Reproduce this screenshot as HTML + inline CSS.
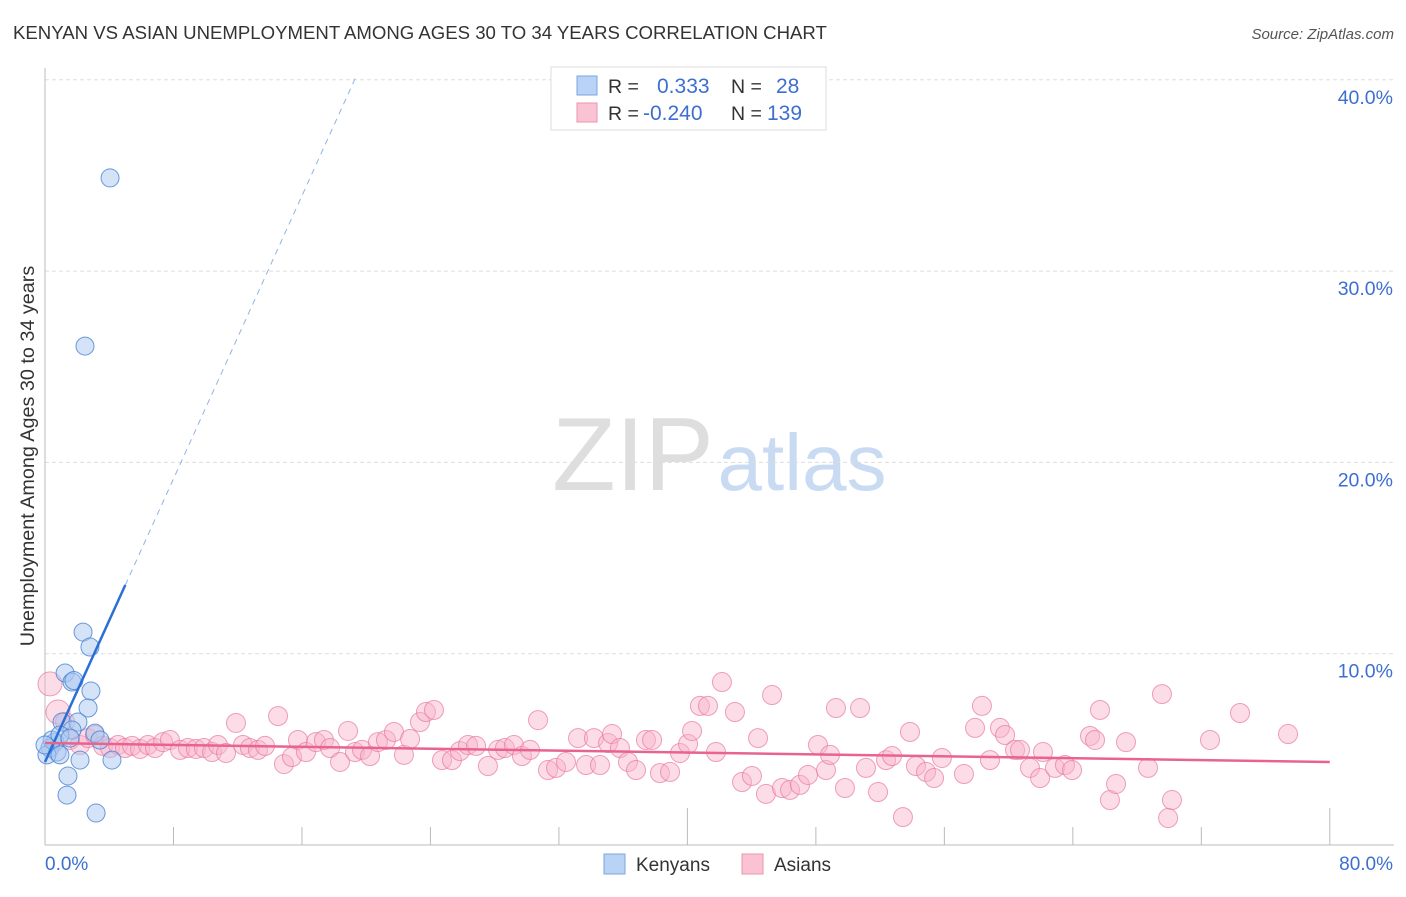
<!DOCTYPE html>
<html><head><meta charset="utf-8"><style>
body{margin:0;background:#fff;font-family:"Liberation Sans",sans-serif}
svg text{font-family:"Liberation Sans",sans-serif}
</style></head><body>
<svg id="chart" width="1406" height="892" xmlns="http://www.w3.org/2000/svg">
<text x="13" y="39" font-size="18.6" fill="#333">KENYAN VS ASIAN UNEMPLOYMENT AMONG AGES 30 TO 34 YEARS CORRELATION CHART</text>
<text x="1394" y="39" font-size="15" fill="#555" font-style="italic" text-anchor="end">Source: ZipAtlas.com</text>
<g>
<text x="633" y="490" font-size="104" font-family="Liberation Serif" fill="#dedede" text-anchor="middle">ZIP</text>
<text x="802" y="490" font-size="80" fill="#c9dbf2" text-anchor="middle">atlas</text>
</g>
<g id="grid"></g>
<g id="axes"></g>
<g id="marks"></g>
<text transform="translate(34,456) rotate(-90)" font-size="19.8" fill="#333" text-anchor="middle">Unemployment Among Ages 30 to 34 years</text>
<g>
<rect x="551" y="67" width="275" height="63" fill="#fff" stroke="#ddd"/>
<rect x="577" y="76" width="20" height="19" fill="#b8d3f5" stroke="#7aa7e0"/>
<rect x="577" y="103" width="20" height="19" fill="#fac3d3" stroke="#ef90ae"/>
<text x="608" y="93" font-size="19.5" fill="#333">R =</text>
<text x="657" y="93" font-size="21" fill="#3d6fd0">0.333</text>
<text x="731" y="93" font-size="19.5" fill="#333">N =</text>
<text x="776" y="93" font-size="21" fill="#3d6fd0">28</text>
<text x="608" y="120" font-size="19.5" fill="#333">R =</text>
<text x="643" y="120" font-size="21" fill="#3d6fd0">-0.240</text>
<text x="731" y="120" font-size="19.5" fill="#333">N =</text>
<text x="767" y="120" font-size="21" fill="#3d6fd0">139</text>
</g>
<g>
<rect x="604" y="854" width="21" height="20" fill="#b8d3f5" stroke="#7aa7e0"/>
<text x="636" y="871" font-size="19" fill="#333">Kenyans</text>
<rect x="742" y="854" width="21" height="20" fill="#fac3d3" stroke="#ef90ae"/>
<text x="774" y="871" font-size="19" fill="#333">Asians</text>
</g>
</svg>
<script>
const yTicks=[10,20,30,40];
const yTickLabels=["10.0%","20.0%","30.0%","40.0%"];
const xTicks=[0,8,16,24,32,40,48,56,64,72,80];
const kenyanX=[4.05,2.49,2.37,2.80,1.25,1.68,2.86,2.68,1.06,2.05,1.68,3.11,0.62,0.31,0.75,0.12,0.44,0.93,1.56,2.18,4.17,1.43,1.37,3.18,3.42,0,0.93,1.8];
const kenyanY=[34.87,26.08,11.13,10.35,8.99,8.52,8.05,7.16,6.43,6.43,6.01,5.85,5.38,5.07,4.86,4.71,5.49,5.75,5.59,4.44,4.44,3.61,2.61,1.67,5.49,5.23,4.71,8.6];
const asianX=[0.31,0.81,1.25,1.56,2.18,2.68,3.11,3.61,4.05,4.55,4.98,5.42,5.92,6.41,6.85,7.35,7.78,8.41,8.90,9.40,9.90,10.40,10.77,11.27,11.89,12.33,12.76,13.26,13.70,14.51,14.88,15.38,15.75,16.25,16.87,17.37,17.75,18.37,18.87,19.30,19.74,20.24,20.73,21.23,21.73,22.35,22.73,23.35,23.72,24.22,24.72,25.34,25.84,26.34,26.84,27.58,28.21,28.64,29.20,29.70,30.20,30.70,31.32,31.82,32.44,33.19,33.69,34.18,34.56,35.06,35.31,35.80,36.30,36.80,37.42,37.80,38.29,38.92,39.54,40.04,40.29,40.78,41.28,41.78,42.15,42.96,43.40,44.02,44.40,44.89,45.27,45.89,46.39,47.01,47.51,48.13,48.63,48.88,49.25,49.81,50.75,51.12,51.87,52.37,52.74,53.86,54.23,54.86,55.36,55.85,57.22,57.91,58.34,58.84,59.46,59.78,60.40,60.71,61.33,61.96,62.14,62.89,63.51,63.95,65.07,65.38,65.69,66.31,66.69,67.31,68.68,69.55,70.17,69.93,72.54,74.41,77.40,53.42];
const asianY=[8.42,6.95,6.43,5.49,5.23,5.59,5.75,5.18,5.07,5.23,5.07,5.18,5.02,5.23,5.07,5.38,5.49,4.97,5.07,5.02,5.07,4.86,5.23,4.81,6.38,5.23,5.07,4.97,5.18,6.74,4.23,4.60,5.49,4.86,5.38,5.49,5.07,4.34,5.96,4.86,4.97,4.65,5.38,5.49,5.91,4.71,5.54,6.43,6.95,7.06,4.44,4.44,4.91,5.23,5.18,4.13,4.97,5.07,5.23,4.65,4.97,6.53,3.92,4.03,4.34,5.59,4.18,5.59,4.18,5.33,5.80,5.07,4.34,3.92,5.49,5.49,3.76,3.82,4.81,5.28,5.96,7.27,7.27,4.86,8.52,6.95,3.29,3.61,5.59,2.67,7.84,2.98,2.88,3.14,3.66,5.23,3.92,4.71,7.16,2.98,7.16,4.03,2.77,4.44,4.65,5.91,4.13,3.82,3.50,4.55,3.71,6.12,7.27,4.44,6.12,5.75,4.97,4.97,4.03,3.50,4.86,4.03,4.18,3.92,5.70,5.49,7.06,2.35,3.19,5.38,4.03,7.89,2.35,1.41,5.49,6.90,5.80,1.46];
const kenyanLine=[4.34,1.85]; // intercept, slope
const asianLine=[5.33,-0.0124];
const NS="http://www.w3.org/2000/svg";
const X=v=>45+v*16.06, Y=v=>845-v*19.13;
function mk(tag,attrs,parent){const e=document.createElementNS(NS,tag);for(const k in attrs)e.setAttribute(k,attrs[k]);parent.appendChild(e);return e;}
const grid=document.getElementById('grid'),axes=document.getElementById('axes'),marks=document.getElementById('marks');
yTicks.forEach((t,i)=>{
 const l=mk('line',{x1:45,x2:1394,y1:Y(t),y2:Y(t),stroke:'#ddd','stroke-dasharray':'4,3'},grid);
 
 
 const tx=mk('text',{x:1393,y:Y(t)+24,'font-size':19.5,fill:'#3d6fd0','text-anchor':'end'},axes);
 tx.textContent=yTickLabels[i];
 
 
});
const ax=mk('line',{x1:45,x2:1394,y1:845,y2:845,stroke:'#bbb'},axes);


const ay=mk('line',{x1:45,x2:45,y1:68,y2:845,stroke:'#bbb'},axes);


xTicks.forEach((t,i)=>{if(i===0)return;
 const tk=mk('line',{x1:X(t),x2:X(t),y1:(i%5===0)?808:827,y2:845,stroke:'#bbb'},axes);
 
 
});
const x0=mk('text',{x:45,y:870,'font-size':19,fill:'#3d6fd0'},axes);x0.textContent='0.0%';


const x1=mk('text',{x:1393,y:870,'font-size':19,fill:'#3d6fd0','text-anchor':'end'},axes);x1.textContent='80.0%';


asianX.forEach((v,i)=>{
 const c=mk('circle',{cx:X(v),cy:Y(asianY[i]),r:i<2?12:9.5,fill:'rgba(248,180,202,0.45)',stroke:'rgba(232,120,160,0.7)','stroke-width':1},marks);
 
 
});
kenyanX.forEach((v,i)=>{
 const c=mk('circle',{cx:X(v),cy:Y(kenyanY[i]),r:9,fill:'rgba(170,200,240,0.5)',stroke:'rgba(70,130,210,0.8)','stroke-width':1},marks);
 
 
});
const kl=x=>kenyanLine[0]+kenyanLine[1]*x, al=x=>asianLine[0]+asianLine[1]*x;
const xEnd=(40.2-kenyanLine[0])/kenyanLine[1];
const kd=mk('line',{x1:X(5),y1:Y(kl(5)),x2:X(xEnd),y2:Y(kl(xEnd)),stroke:'#8fb4e6','stroke-width':1,'stroke-dasharray':'6,5'},marks);


const ks=mk('line',{x1:X(0),y1:Y(kl(0)),x2:X(5),y2:Y(kl(5)),stroke:'#2a6fd6','stroke-width':2.5},marks);


const as=mk('line',{x1:X(0),y1:Y(al(0)),x2:X(80),y2:Y(al(80)),stroke:'#e8648e','stroke-width':2.5},marks);


</script>
</body></html>
